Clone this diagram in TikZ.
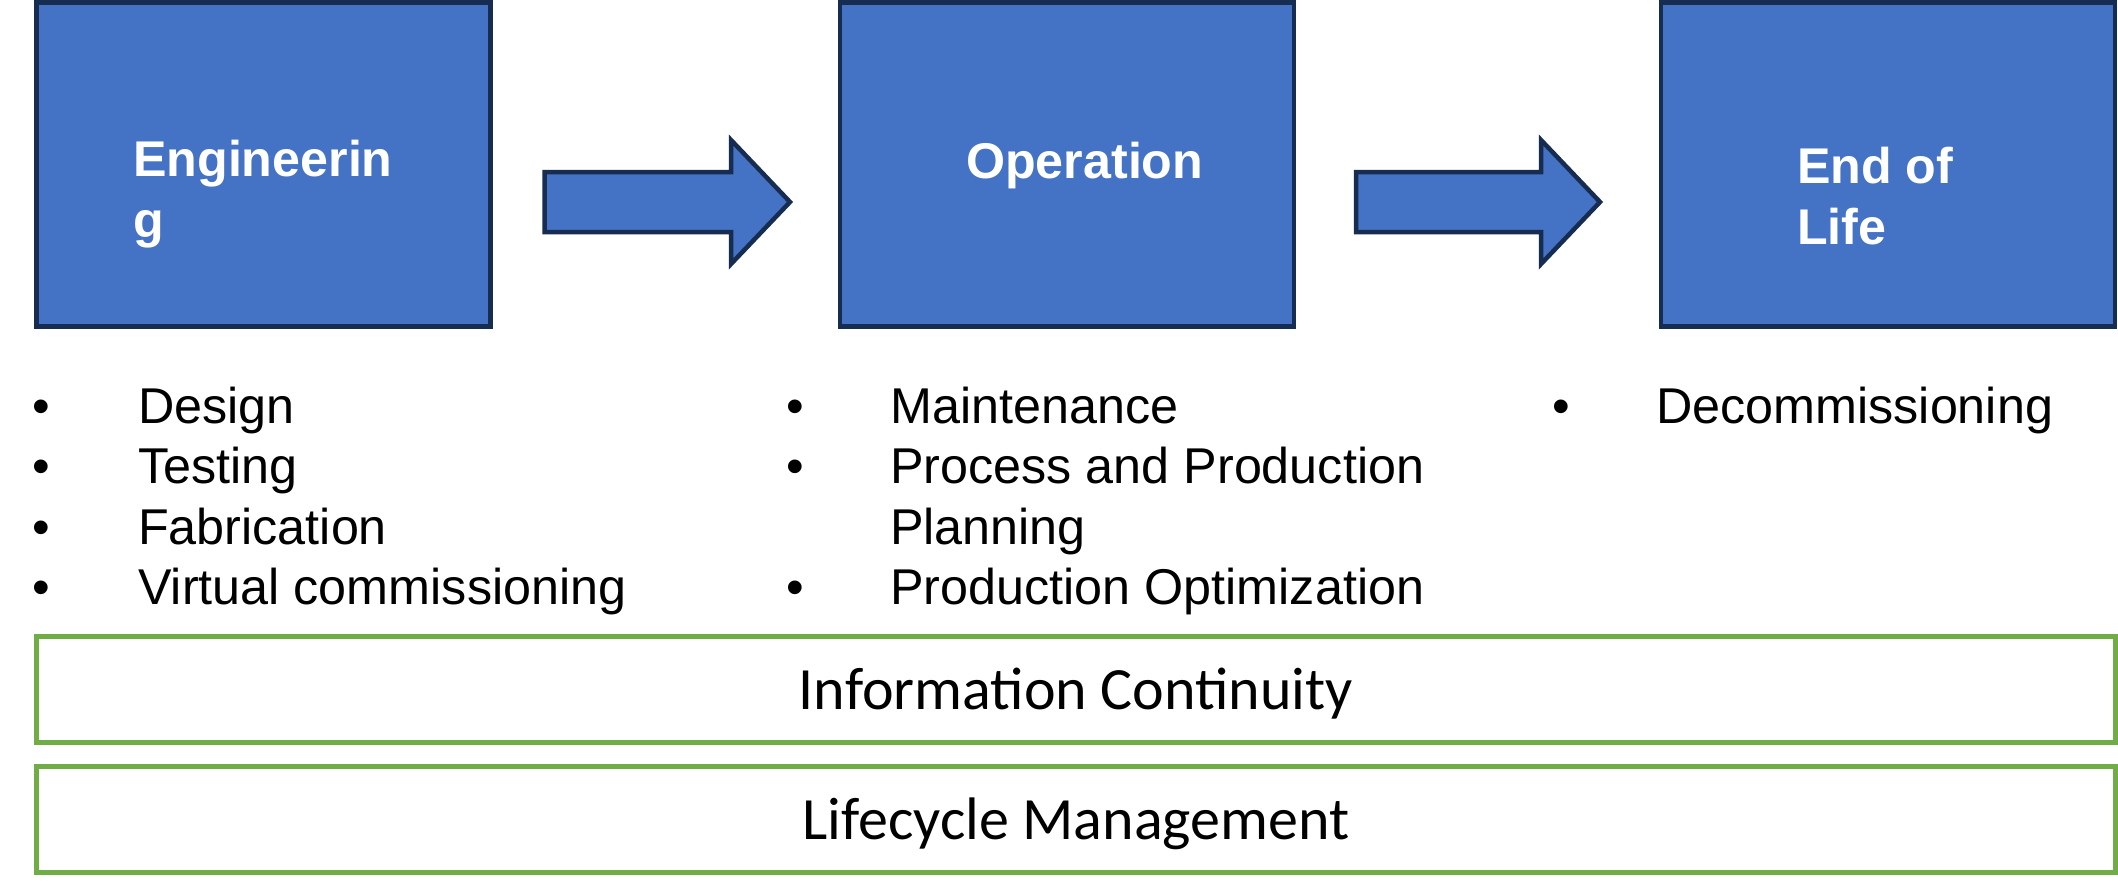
\documentclass[tikz,border=0pt]{standalone}
\usepackage{fontspec}
\setmainfont{Liberation Sans}
\newfontfamily\calib{Carlito}
\definecolor{boxblue}{HTML}{4472C4}
\definecolor{boxedge}{HTML}{172C51}
\definecolor{bandgreen}{HTML}{70AD47}
\begin{document}
\begin{tikzpicture}[x=1pt,y=-1pt,
  phasebox/.style={draw=boxedge, fill=boxblue, line width=4.5pt, minimum width=454pt, minimum height=324pt, inner sep=0pt, outer sep=0pt},
  phasetext/.style={text=white, font=\bfseries\fontsize{50.2}{60.5}\selectfont, align=left, inner sep=0pt, anchor=base west},
  blockarrow/.style={draw=boxedge, fill=boxblue, line width=4.5pt, line join=miter},
  band/.style={draw=bandgreen, line width=4.5pt, minimum width=2079pt, minimum height=106pt, inner sep=0pt, text height=39pt, text depth=0pt, font=\calib\fontsize{60}{70}\selectfont},
  bullets/.style={font=\fontsize{50.3}{60.5}\selectfont, anchor=base west, inner sep=0pt}
]
\useasboundingbox (0,0) rectangle (2118,892);
\fill[white] (0,0) rectangle (2118,892);

% phase boxes
\node[phasebox] (eng) at (263.5,164.5) {};
\node[phasebox] (op)  at (1067,164.5) {};
\node[phasebox] (eol) at (1888,164.5) {};

% multi-line nodes are anchored at the baseline of their last line
\node[phasetext] (engt) at (133,237) {Engineerin\\g};
\node[phasetext] (opt)  at (966,178) {Operation};
\node[phasetext] (eolt) at (1797,244) {End of\\Life};

% block arrows
\draw[blockarrow] (544.5,172) -- (731,172) -- (731,140) -- (790,202) -- (731,264) -- (731,232) -- (544.5,232) -- cycle;
\draw[blockarrow] (1356,172) -- (1541,172) -- (1541,140) -- (1600,202) -- (1541,264) -- (1541,232) -- (1356,232) -- cycle;

% bullet lists
\node[bullets] (list1) at (32,423) {\begin{tabular}[t]{@{}p{106pt}@{}l@{}}•&Design\\•&Testing\\•&Fabrication\\•&Virtual commissioning\end{tabular}};
\node[bullets] (list2) at (786,423) {\begin{tabular}[t]{@{}p{104pt}@{}l@{}}•&Maintenance\\•&Process and Production\\&Planning\\•&Production Optimization\end{tabular}};
\node[bullets] (list3) at (1552,423) {\begin{tabular}[t]{@{}p{104pt}@{}l@{}}•&Decommissioning\end{tabular}};

% bands
\node[band] (info) at (1076,689.5) {Information Continuity};
\node[band] (life) at (1076,819.5) {Lifecycle Management};
\end{tikzpicture}
\end{document}
